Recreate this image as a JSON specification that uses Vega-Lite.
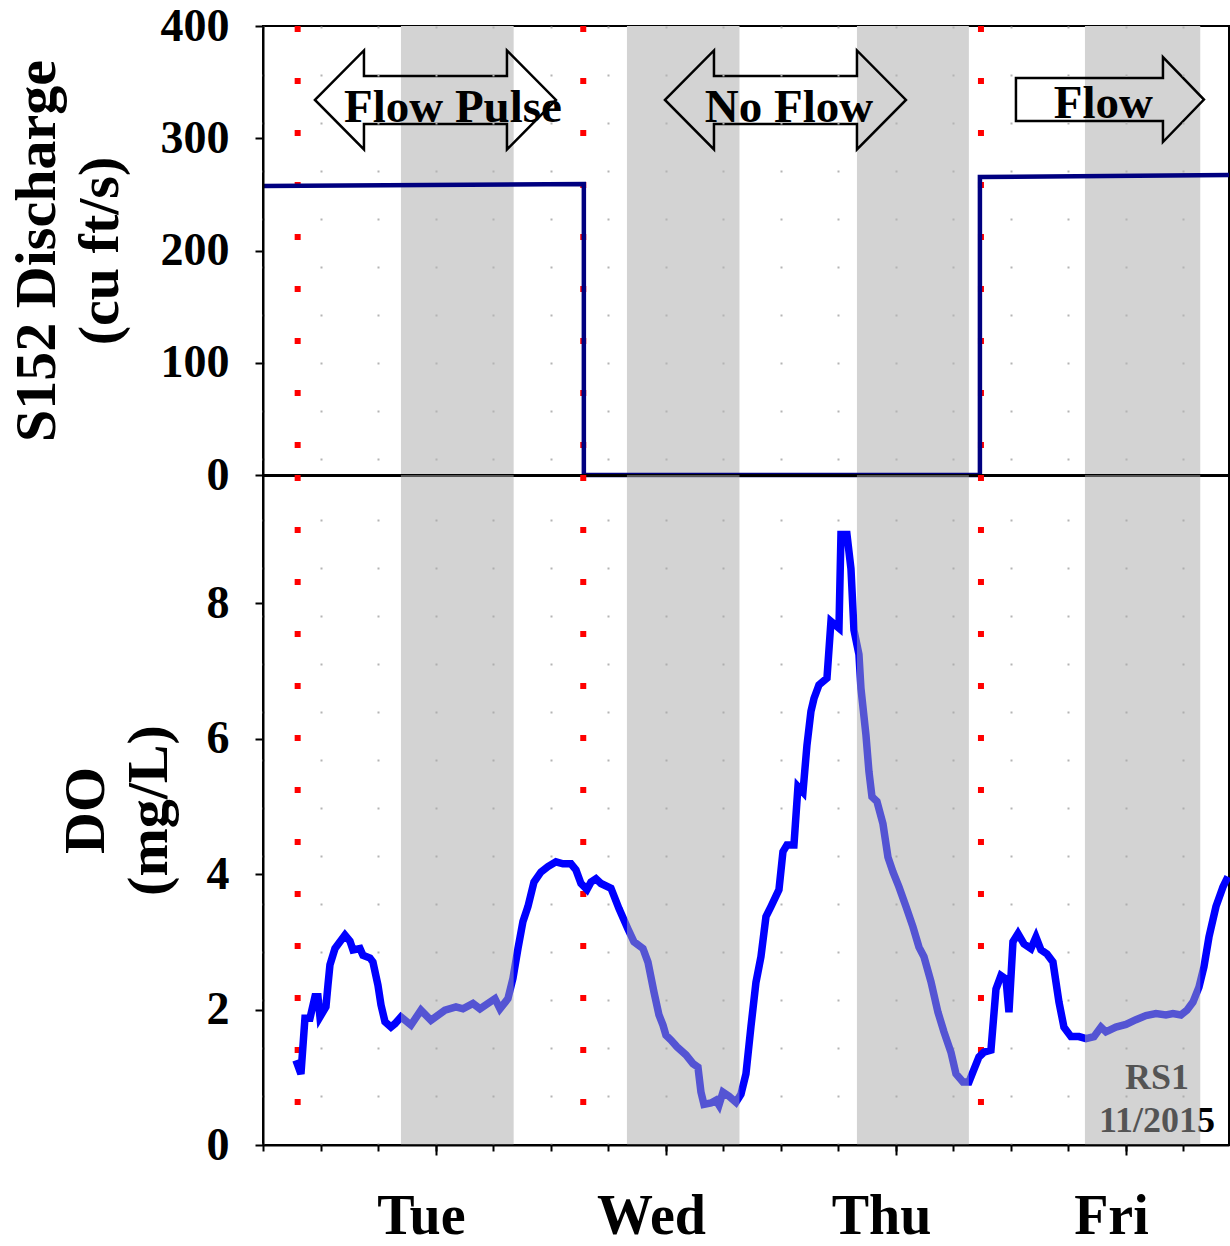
{
  "$schema": "https://vega.github.io/schema/vega-lite/v6.json",
  "padding": {"left": 7, "top": 2, "right": 0, "bottom": 0},
  "config": {
    "font": "Liberation Serif",
    "view": {"stroke": "black", "strokeWidth": 2},
    "axis": {"labelFont": "Liberation Serif", "titleFont": "Liberation Serif"}
  },
  "datasets": {
    "bands": [{"s": -0.1522, "e": 0.3378}, {"s": 0.8304, "e": 1.3196}, {"s": 1.8304, "e": 2.317}, {"s": 2.8217, "e": 3.323}],
    "events": [{"day": -0.6013}, {"day": 0.6404}, {"day": 2.3696}],
    "flow": [
      {"i": 1, "day": -0.752, "q": 257.5},
      {"i": 2, "day": 0.643, "q": 259.2},
      {"i": 3, "day": 0.643, "q": 0},
      {"i": 4, "day": 2.365, "q": 0},
      {"i": 5, "day": 2.365, "q": 265.5},
      {"i": 6, "day": 3.448, "q": 267.3}
    ],
    "arrows2": [{"day": -0.0022, "q": 334.1}, {"day": 1.5196, "q": 334.1}],
    "arrows1": [{"day": 2.9304, "q": 334.5}],
    "arrowText": [
      {"day": 0.0739, "q": 314.9, "label": "Flow Pulse"},
      {"day": 1.5348, "q": 314.9, "label": "No Flow"},
      {"day": 2.9022, "q": 318.0, "label": "Flow"}
    ],
    "stamp": [{"day": 3.135, "do": 0.827, "label": "RS1\n11/2015"}],
    "do": [
      {"day": -0.6087, "do": 1.25}, {"day": -0.587, "do": 1.05}, {"day": -0.5696, "do": 1.87}, {"day": -0.5478, "do": 1.87},
      {"day": -0.5261, "do": 2.19}, {"day": -0.513, "do": 2.19}, {"day": -0.5043, "do": 1.89}, {"day": -0.4783, "do": 2.04},
      {"day": -0.4696, "do": 2.36}, {"day": -0.4609, "do": 2.66}, {"day": -0.4391, "do": 2.9}, {"day": -0.3957, "do": 3.1},
      {"day": -0.3739, "do": 3.01}, {"day": -0.3609, "do": 2.88}, {"day": -0.3304, "do": 2.9}, {"day": -0.3174, "do": 2.8},
      {"day": -0.287, "do": 2.76}, {"day": -0.2739, "do": 2.7}, {"day": -0.2522, "do": 2.36}, {"day": -0.2391, "do": 2.07},
      {"day": -0.2217, "do": 1.82}, {"day": -0.1957, "do": 1.74}, {"day": -0.1783, "do": 1.79}, {"day": -0.1522, "do": 1.89},
      {"day": -0.1087, "do": 1.77}, {"day": -0.0652, "do": 1.99}, {"day": -0.0217, "do": 1.84}, {"day": 0.0391, "do": 1.99},
      {"day": 0.087, "do": 2.04}, {"day": 0.1174, "do": 2.01}, {"day": 0.1609, "do": 2.09}, {"day": 0.1913, "do": 2.01},
      {"day": 0.2565, "do": 2.16}, {"day": 0.2783, "do": 2.01}, {"day": 0.313, "do": 2.16}, {"day": 0.3348, "do": 2.46},
      {"day": 0.3565, "do": 2.9}, {"day": 0.3783, "do": 3.3}, {"day": 0.4, "do": 3.52}, {"day": 0.4261, "do": 3.88},
      {"day": 0.4565, "do": 4.03}, {"day": 0.487, "do": 4.11}, {"day": 0.5217, "do": 4.18}, {"day": 0.5522, "do": 4.15},
      {"day": 0.587, "do": 4.15}, {"day": 0.6087, "do": 4.06}, {"day": 0.6304, "do": 3.86}, {"day": 0.6565, "do": 3.77},
      {"day": 0.6739, "do": 3.88}, {"day": 0.6957, "do": 3.93}, {"day": 0.7174, "do": 3.86}, {"day": 0.7609, "do": 3.79},
      {"day": 0.7957, "do": 3.49}, {"day": 0.8348, "do": 3.19}, {"day": 0.8609, "do": 3.0}, {"day": 0.9, "do": 2.9},
      {"day": 0.9217, "do": 2.7}, {"day": 0.9478, "do": 2.26}, {"day": 0.9696, "do": 1.92}, {"day": 0.987, "do": 1.77},
      {"day": 1.0, "do": 1.62}, {"day": 1.0217, "do": 1.55}, {"day": 1.0478, "do": 1.45}, {"day": 1.087, "do": 1.33},
      {"day": 1.1174, "do": 1.2}, {"day": 1.1391, "do": 1.15}, {"day": 1.1522, "do": 0.78}, {"day": 1.1652, "do": 0.6},
      {"day": 1.1957, "do": 0.62}, {"day": 1.2174, "do": 0.66}, {"day": 1.2304, "do": 0.59}, {"day": 1.2478, "do": 0.78},
      {"day": 1.2739, "do": 0.72}, {"day": 1.3043, "do": 0.63}, {"day": 1.3261, "do": 0.75}, {"day": 1.3478, "do": 1.05},
      {"day": 1.3696, "do": 1.75}, {"day": 1.3913, "do": 2.4}, {"day": 1.413, "do": 2.78}, {"day": 1.4348, "do": 3.37},
      {"day": 1.4565, "do": 3.52}, {"day": 1.4913, "do": 3.77}, {"day": 1.5087, "do": 4.33}, {"day": 1.5261, "do": 4.43},
      {"day": 1.5565, "do": 4.43}, {"day": 1.5739, "do": 5.29}, {"day": 1.5957, "do": 5.21}, {"day": 1.613, "do": 5.9},
      {"day": 1.6304, "do": 6.4}, {"day": 1.6435, "do": 6.59}, {"day": 1.6652, "do": 6.79}, {"day": 1.7, "do": 6.89},
      {"day": 1.7174, "do": 7.73}, {"day": 1.7522, "do": 7.63}, {"day": 1.7609, "do": 9.01}, {"day": 1.787, "do": 9.01},
      {"day": 1.8043, "do": 8.51}, {"day": 1.8174, "do": 7.6}, {"day": 1.8391, "do": 7.24}, {"day": 1.8478, "do": 6.74},
      {"day": 1.8696, "do": 6.05}, {"day": 1.8826, "do": 5.51}, {"day": 1.8957, "do": 5.14}, {"day": 1.9174, "do": 5.07},
      {"day": 1.9435, "do": 4.74}, {"day": 1.9652, "do": 4.25}, {"day": 1.987, "do": 4.03}, {"day": 2.013, "do": 3.81},
      {"day": 2.0435, "do": 3.52}, {"day": 2.0739, "do": 3.22}, {"day": 2.1, "do": 2.92}, {"day": 2.1217, "do": 2.78},
      {"day": 2.1522, "do": 2.41}, {"day": 2.1826, "do": 1.96}, {"day": 2.2087, "do": 1.67}, {"day": 2.2391, "do": 1.37},
      {"day": 2.2609, "do": 1.05}, {"day": 2.2913, "do": 0.93}, {"day": 2.3174, "do": 0.93}, {"day": 2.3348, "do": 1.08},
      {"day": 2.3609, "do": 1.3}, {"day": 2.3826, "do": 1.37}, {"day": 2.413, "do": 1.4}, {"day": 2.4348, "do": 2.3},
      {"day": 2.4565, "do": 2.5}, {"day": 2.4783, "do": 2.45}, {"day": 2.4913, "do": 1.96}, {"day": 2.5087, "do": 3.0},
      {"day": 2.5304, "do": 3.12}, {"day": 2.5565, "do": 2.97}, {"day": 2.587, "do": 2.9}, {"day": 2.6087, "do": 3.07},
      {"day": 2.6304, "do": 2.88}, {"day": 2.6565, "do": 2.82}, {"day": 2.6826, "do": 2.7}, {"day": 2.7087, "do": 2.11},
      {"day": 2.7304, "do": 1.74}, {"day": 2.7609, "do": 1.6}, {"day": 2.7957, "do": 1.6}, {"day": 2.8261, "do": 1.57},
      {"day": 2.8609, "do": 1.6}, {"day": 2.8913, "do": 1.74}, {"day": 2.913, "do": 1.67}, {"day": 2.9565, "do": 1.74},
      {"day": 3.0, "do": 1.78}, {"day": 3.0435, "do": 1.85}, {"day": 3.087, "do": 1.91}, {"day": 3.1304, "do": 1.94},
      {"day": 3.1739, "do": 1.92}, {"day": 3.2043, "do": 1.94}, {"day": 3.2391, "do": 1.92}, {"day": 3.2652, "do": 1.99},
      {"day": 3.2913, "do": 2.11}, {"day": 3.3174, "do": 2.33}, {"day": 3.3391, "do": 2.63}, {"day": 3.3609, "do": 3.07},
      {"day": 3.3913, "do": 3.52}, {"day": 3.4217, "do": 3.81}, {"day": 3.4435, "do": 3.96}
    ]
  },
  "spacing": 0,
  "bounds": "flush",
  "vconcat": [
    {
      "width": 966,
      "height": 449,
      "layer": [
        {
          "data": {"name": "bands"},
          "mark": {"type": "rect", "fill": "#d3d3d3"},
          "encoding": {
            "x": {
              "field": "s", "type": "quantitative",
              "scale": {"domain": [-0.752, 3.448], "nice": false, "zero": false},
              "axis": {
                "orient": "bottom", "title": null,
                "values": [-0.75, -0.5, -0.25, 0, 0.25, 0.5, 0.75, 1, 1.25, 1.5, 1.75, 2, 2.25, 2.5, 2.75, 3, 3.25],
                "labels": false, "ticks": false,
                "domain": true, "domainColor": "black", "domainWidth": 3,
                "grid": true, "gridDash": [2, 46], "gridColor": "#b4b4b4", "gridWidth": 2,
                "zindex": 1
              }
            },
            "x2": {"field": "e"}
          }
        },
        {
          "data": {"name": "events"},
          "mark": {"type": "rule", "color": "#ff0000", "strokeWidth": 6, "strokeDash": [6, 46]},
          "encoding": {"x": {"field": "day", "type": "quantitative"}}
        },
        {
          "data": {"name": "flow"},
          "mark": {"type": "line", "color": "#000080", "strokeWidth": 4.5},
          "encoding": {
            "x": {"field": "day", "type": "quantitative"},
            "y": {
              "field": "q", "type": "quantitative",
              "scale": {"domain": [0, 400], "nice": false},
              "axis": {
                "values": [0, 100, 200, 300, 400], "format": "d",
                "title": ["S152 Discharge", "(cu ft/s)"],
                "titleFontSize": 58, "titleFontWeight": "bold", "titleColor": "black",
                "titleLineHeight": 63, "titleX": -209, "titleY": 224.5,
                "titleAlign": "center", "titleBaseline": "alphabetic", "titleAngle": 270,
                "labelFontSize": 46, "labelFontWeight": "bold", "labelColor": "black",
                "tickSize": 8, "tickWidth": 2, "tickColor": "black", "labelPadding": 26,
                "domainColor": "black", "domainWidth": 2, "grid": false, "zindex": 1
              }
            },
            "order": {"field": "i", "type": "quantitative"}
          }
        },
        {
          "data": {"name": "arrows2"},
          "mark": {
            "type": "point", "filled": false, "opacity": 1, "size": 4,
            "stroke": "black", "strokeWidth": 2.5,
            "shape": "M-120.5,0L-71.5,-49.5L-71.5,-24L71.5,-24L71.5,-49.5L120.5,0L71.5,49.5L71.5,24L-71.5,24L-71.5,49.5Z"
          },
          "encoding": {
            "x": {"field": "day", "type": "quantitative"},
            "y": {"field": "q", "type": "quantitative"}
          }
        },
        {
          "data": {"name": "arrows1"},
          "mark": {
            "type": "point", "filled": false, "opacity": 1, "size": 4,
            "stroke": "black", "strokeWidth": 2.5,
            "shape": "M-94,-21.5L53,-21.5L53,-42.5L94,0L53,42.5L53,21.5L-94,21.5Z"
          },
          "encoding": {
            "x": {"field": "day", "type": "quantitative"},
            "y": {"field": "q", "type": "quantitative"}
          }
        },
        {
          "data": {"name": "arrowText"},
          "mark": {"type": "text", "font": "Liberation Serif", "fontSize": 47, "fontWeight": "bold", "color": "black", "align": "center", "baseline": "alphabetic"},
          "encoding": {
            "x": {"field": "day", "type": "quantitative"},
            "y": {"field": "q", "type": "quantitative"},
            "text": {"field": "label"}
          }
        }
      ]
    },
    {
      "width": 966,
      "height": 670,
      "resolve": {"axis": {"x": "independent"}},
      "layer": [
        {
          "data": {"name": "events"},
          "mark": {"type": "rule", "color": "#ff0000", "strokeWidth": 6, "strokeDash": [6, 46]},
          "encoding": {"x": {"field": "day", "type": "quantitative", "scale": {"domain": [-0.752, 3.448], "nice": false, "zero": false}, "axis": null}}
        },
        {
          "data": {"name": "do"},
          "mark": {"type": "line", "color": "#0000ff", "strokeWidth": 7.5},
          "encoding": {
            "x": {
              "field": "day", "type": "quantitative",
              "axis": {
                "orient": "bottom", "title": null, "values": [0, 1, 2, 3],
                "labelExpr": "datum.value == 0 ? 'Tue' : datum.value == 1 ? 'Wed' : datum.value == 2 ? 'Thu' : 'Fri'",
                "tickSize": 10, "tickWidth": 2, "tickColor": "black",
                "domainColor": "black", "domainWidth": 2,
                "labelFontSize": 56, "labelFontWeight": "bold", "labelColor": "black",
                "labelBaseline": "alphabetic", "labelPadding": 78, "labelOffset": -15,
                "labelFlush": false, "labelOverlap": false, "grid": false, "zindex": 1
              }
            },
            "y": {
              "field": "do", "type": "quantitative",
              "scale": {"domain": [0, 9.89], "nice": false},
              "axis": {
                "values": [0, 2, 4, 6, 8], "format": "d",
                "title": ["DO", "(mg/L)"],
                "titleFontSize": 58, "titleFontWeight": "bold", "titleColor": "black",
                "titleLineHeight": 63, "titleX": -160, "titleY": 335,
                "titleAlign": "center", "titleBaseline": "alphabetic", "titleAngle": 270,
                "labelFontSize": 46, "labelFontWeight": "bold", "labelColor": "black",
                "tickSize": 8, "tickWidth": 2, "tickColor": "black", "labelPadding": 26,
                "domainColor": "black", "domainWidth": 2, "grid": false, "zindex": 1
              }
            }
          }
        },
        {
          "data": {"name": "stamp"},
          "mark": {"type": "text", "font": "Liberation Serif", "fontSize": 36, "fontWeight": "bold", "color": "black", "align": "center", "baseline": "alphabetic", "lineBreak": "\n", "lineHeight": 43},
          "encoding": {
            "x": {"field": "day", "type": "quantitative", "axis": null},
            "y": {"field": "do", "type": "quantitative"},
            "text": {"field": "label"}
          }
        },
        {
          "data": {"name": "bands"},
          "mark": {"type": "rect", "fill": "#a8a8a8", "opacity": 0.5},
          "encoding": {
            "x": {
              "field": "s", "type": "quantitative",
              "axis": {
                "orient": "bottom", "title": null,
                "values": [-0.75, -0.5, -0.25, 0, 0.25, 0.5, 0.75, 1, 1.25, 1.5, 1.75, 2, 2.25, 2.5, 2.75, 3, 3.25],
                "labels": false, "tickSize": 6, "tickWidth": 2, "tickColor": "black",
                "domain": false, "grid": true, "gridDash": [2, 46], "gridColor": "#b4b4b4", "gridWidth": 2,
                "zindex": 0
              }
            },
            "x2": {"field": "e"}
          }
        }
      ]
    }
  ]
}
